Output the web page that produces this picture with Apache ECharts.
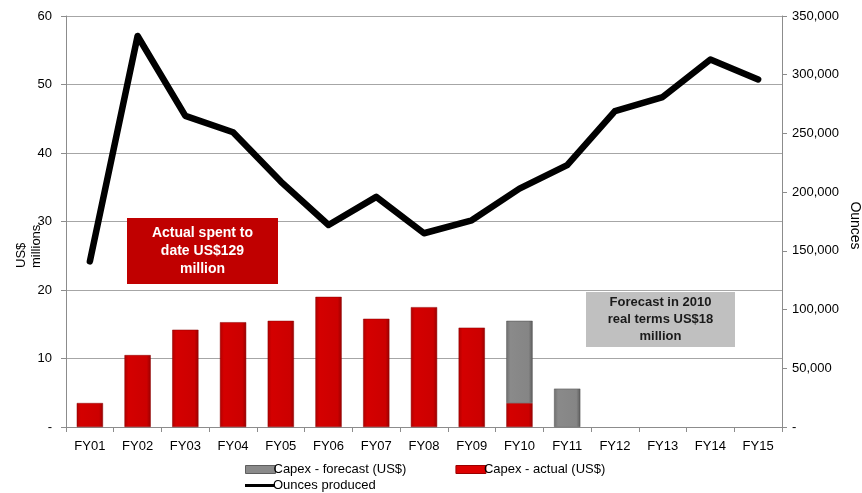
<!DOCTYPE html>
<html>
<head>
<meta charset="utf-8">
<script src="https://cdn.jsdelivr.net/npm/echarts@6/dist/echarts.min.js"></script>
<style>
  html, body { margin: 0; padding: 0; background: #fff; }
  #chart { width: 862px; height: 493px; }
</style>
</head>
<body>
<div id="chart"></div>
<script>
// 数据
const years = ['FY01', 'FY02', 'FY03', 'FY04', 'FY05', 'FY06', 'FY07', 'FY08',
  'FY09', 'FY10', 'FY11', 'FY12', 'FY13', 'FY14', 'FY15']
const capexActual = [3.5, 10.5, 14.2, 15.3, 15.5, 19.0, 15.8, 17.5, 14.5, 3.5,
  null, null, null, null, null]
const capexForecast = [null, null, null, null, null, null, null, null, null, 12.0,
  5.6, null, null, null, null]
const ounces = [141000, 333000, 265000, 251000, 209000, 172000, 196000, 165000,
  176000, 203000, 223000, 269000, 281000, 313000, 296000]
const leftTicks = [0, 10, 20, 30, 40, 50, 60]
const rightTicks = [0, 50000, 100000, 150000, 200000, 250000, 300000, 350000]

const font = 'Liberation Sans, Arial, sans-serif'
const axisGray = '#8c8c8c'

const redFill = {
  type: 'linear', x: 0, y: 0, x2: 1, y2: 0,
  colorStops: [
    { offset: 0, color: '#b00000' },
    { offset: 0.15, color: '#d40000' },
    { offset: 0.85, color: '#cc0000' },
    { offset: 1, color: '#9a0000' }
  ]
}
const grayFill = {
  type: 'linear', x: 0, y: 0, x2: 1, y2: 0,
  colorStops: [
    { offset: 0, color: '#6f6f6f' },
    { offset: 0.15, color: '#8a8a8a' },
    { offset: 0.85, color: '#858585' },
    { offset: 1, color: '#5e5e5e' }
  ]
}

const fmtThousands = (v) => v === 0 ? '-' : String(v).replace(/\B(?=(\d{3})+(?!\d))/g, ',')

const chart = echarts.init(document.getElementById('chart'))

const option = {
  animation: false,
  textStyle: { fontFamily: font },
  grid: { left: 66, right: 80, top: 16, bottom: 66, outerBoundsMode: 'none', containLabel: false },
  legend: [
    {
      data: [
        { name: 'Capex - forecast (US$)', icon: 'rect', itemStyle: { color: '#8a8a8a', borderColor: '#5e5e5e', borderWidth: 1 } },
        { name: 'Capex - actual (US$)', icon: 'rect', itemStyle: { color: '#dd0000', borderColor: '#9a0000', borderWidth: 1 } }
      ],
      left: 240, top: 458,
      itemWidth: 30, itemHeight: 8, itemGap: 49,
      textStyle: { fontSize: 13, color: '#000', padding: [0, 0, 0, -7] }
    },
    {
      data: [{ name: 'Ounces produced', icon: 'rect', itemStyle: { color: '#000' } }],
      left: 240, top: 474,
      itemWidth: 30, itemHeight: 3,
      textStyle: { fontSize: 13, color: '#000', padding: [0, 0, 0, -7] }
    }
  ],
  xAxis: {
    type: 'category',
    data: years,
    boundaryGap: true,
    axisLine: { lineStyle: { color: axisGray } },
    axisTick: { show: true, length: 5, lineStyle: { color: axisGray } },
    axisLabel: { color: '#000', fontSize: 13, margin: 13 }
  },
  yAxis: [
    {
      type: 'value',
      min: 0, max: 60, interval: 10,
      axisLine: { show: true, lineStyle: { color: axisGray } },
      axisTick: { show: true, length: 5, lineStyle: { color: axisGray } },
      axisLabel: {
        color: '#000', fontSize: 13, margin: 14,
        formatter: (v) => leftTicks.includes(v) ? (v === 0 ? '-' : String(v)) : ''
      },
      splitLine: { show: true, lineStyle: { color: '#a6a6a6', width: 1 } }
    },
    {
      type: 'value',
      min: 0, max: 350000, interval: 50000,
      name: 'Ounces',
      nameLocation: 'middle',
      nameGap: 66,
      nameRotate: -90,
      nameMoveOverlap: false,
      nameTextStyle: { color: '#000', fontSize: 14, padding: [0, 0, 0, 8] },
      position: 'right',
      axisLine: { show: true, lineStyle: { color: axisGray } },
      axisTick: { show: true, length: 5, lineStyle: { color: axisGray } },
      axisLabel: {
        color: '#000', fontSize: 13, margin: 10,
        formatter: (v) => rightTicks.includes(v) ? fmtThousands(v) : ''
      },
      splitLine: { show: false }
    }
  ],
  series: [
    {
      name: 'Capex - actual (US$)',
      type: 'bar',
      stack: 'capex',
      barWidth: '55%',
      data: capexActual,
      itemStyle: { color: redFill, borderColor: '#8a0000', borderWidth: 0.5 }
    },
    {
      name: 'Capex - forecast (US$)',
      type: 'bar',
      stack: 'capex',
      barWidth: '55%',
      data: capexForecast,
      itemStyle: { color: grayFill, borderColor: '#4a4a4a', borderWidth: 0.5 }
    },
    {
      name: 'Ounces produced',
      type: 'line',
      yAxisIndex: 1,
      data: ounces,
      symbol: 'none',
      lineStyle: { color: '#000', width: 6.5, cap: 'round', join: 'round' },
      itemStyle: { color: '#000' },
      z: 5
    }
  ],
  graphic: [
    // 左轴标题（底部对齐，同Excel原图）
    {
      type: 'text', z: 0,
      x: 29, y: 268, rotation: Math.PI / 2,
      style: {
        text: 'US$\nmillions',
        fill: '#000', font: '13px ' + font,
        align: 'left', verticalAlign: 'middle', lineHeight: 15
      }
    },
    {
      type: 'group',
      left: 127, top: 218, z: 100,
      children: [
        { type: 'rect', z: 100, shape: { x: 0, y: 0, width: 151, height: 66 }, style: { fill: '#c00000' } },
        {
          type: 'text', z: 101, x: 75.5, y: 33,
          style: {
            text: 'Actual spent to\ndate US$129\nmillion',
            fill: '#fff', font: 'bold 14px ' + font,
            align: 'center', verticalAlign: 'middle', lineHeight: 18
          }
        }
      ]
    },
    {
      type: 'group',
      left: 586, top: 292, z: 100,
      children: [
        { type: 'rect', z: 100, shape: { x: 0, y: 0, width: 149, height: 55 }, style: { fill: '#c0c0c0' } },
        {
          type: 'text', z: 101, x: 74.5, y: 27.5,
          style: {
            text: 'Forecast in 2010\nreal terms US$18\nmillion',
            fill: '#1a1a1a', font: 'bold 13px ' + font,
            align: 'center', verticalAlign: 'middle', lineHeight: 17
          }
        }
      ]
    }
  ]
}

chart.setOption(option)
window.addEventListener('resize', () => {
  chart.resize()
})
</script>
</body>
</html>
